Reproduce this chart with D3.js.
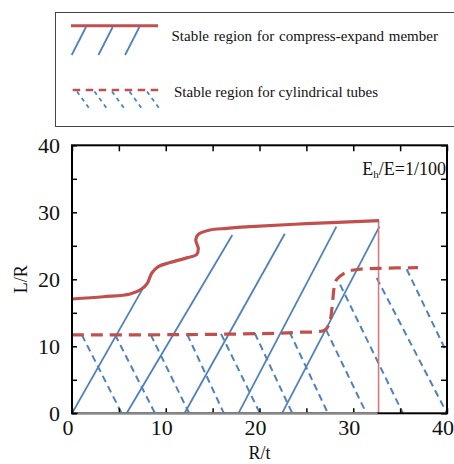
<!DOCTYPE html>
<html>
<head>
<meta charset="utf-8">
<script src="https://cdn.jsdelivr.net/npm/d3@7/dist/d3.min.js"></script>
<style>
  html, body { margin: 0; padding: 0; background: #fff; }
  svg { display: block; }
</style>
</head>
<body>
<svg id="chart" width="454" height="464"></svg>
<script>
// ---------- data ----------
const xTickValues = [0, 5, 10, 15, 20, 25, 30, 35, 40];
const xTickLabels = [0, 10, 20, 30, 40];
const yTickValues = [0, 5, 10, 15, 20, 25, 30, 35, 40];
const yTickLabels = [0, 10, 20, 30, 40];

// boundary of the stable region for compress-expand member (solid red)
const memberCurveX = [0, 3.35, 6.2, 7.43, 8.03, 8.5, 9.2, 10.45, 12.23, 13.3, 13.47, 13.2, 13.47, 14.7, 16.5, 19.0, 25.0, 32.75];
const memberCurveY = [17.06, 17.4, 17.8, 18.55, 19.4, 20.9, 21.9, 22.5, 23.2, 23.7, 24.6, 25.9, 26.7, 27.36, 27.6, 27.85, 28.3, 28.75];
const memberLimitX = 32.7;          // thin vertical boundary
const memberLimitTop = 28.75;

// hatch lines of member region (solid blue)
const memberHatchX0 = [0, 5.83, 12.0, 17.75, 22.4];
const memberHatchY0 = [0, 0, 0, 0, 0];
const memberHatchX1 = [7.5, 17.1, 22.7, 28.2, 32.8];
const memberHatchY1 = [18.5, 26.6, 26.8, 27.85, 27.9];

// boundary of the stable region for cylindrical tubes (dashed red)
const tubeCurveX = [0, 12.6, 21.8, 24.3, 27.0, 27.5, 27.77, 27.95, 28.2, 29.3, 30.7, 32.85, 36.9];
const tubeCurveY = [11.7, 11.75, 11.95, 12.1, 12.45, 13.7, 16.2, 18.66, 19.9, 21.1, 21.5, 21.64, 21.73];

// hatch lines of tube region (dashed blue)
const tubeHatchX0 = [1.05, 4.6, 8.4, 12.3, 15.9, 19.5, 23.2, 27.1, 28.6, 32.5, 35.7];
const tubeHatchY0 = [11.7, 11.72, 11.73, 11.75, 11.85, 11.95, 12.15, 12.45, 19.2, 20.2, 21.5];
const tubeHatchX1 = [5.3, 8.85, 12.5, 16.2, 20.05, 23.5, 27.3, 31.4, 35.3, 40.0, 40.0];
const tubeHatchY1 = [0, 0, 0, 0, 0, 0, 0, 0, 0, 0, 9.0];

const legendLabels = ["Stable region for compress-expand member", "Stable region for cylindrical tubes"];
const annotation = { main: "E", sub: "h", rest: "/E=1/100" };
const xTitle = "R/t", yTitle = "L/R";

// ---------- styles ----------
const RED = "#c0504d", BLUE = "#4f81bd";
const FONT = "'Liberation Serif', 'Times New Roman', Tinos, 'DejaVu Serif', serif";

const svg = d3.select("#chart").attr("font-family", FONT);
const x = d3.scaleLinear().domain([0, 40]).range([72, 447]);
const y = d3.scaleLinear().domain([0, 40]).range([413.3, 145.3]);

// clip
svg.append("clipPath").attr("id", "plotclip").append("rect")
  .attr("x", x(0)).attr("y", y(40)).attr("width", x(40) - x(0)).attr("height", y(0) - y(40));

const plot = svg.append("g").attr("clip-path", "url(#plotclip)");

// member hatch (solid blue)
plot.selectAll(".mh").data(d3.range(memberHatchX0.length)).join("line")
  .attr("x1", i => x(memberHatchX0[i])).attr("y1", i => y(memberHatchY0[i]))
  .attr("x2", i => x(memberHatchX1[i])).attr("y2", i => y(memberHatchY1[i]))
  .attr("stroke", BLUE).attr("stroke-width", 1.8);

// tube hatch (dashed blue)
plot.selectAll(".th").data(d3.range(tubeHatchX0.length)).join("line")
  .attr("x1", i => x(tubeHatchX0[i])).attr("y1", i => y(tubeHatchY0[i]))
  .attr("x2", i => x(tubeHatchX1[i])).attr("y2", i => y(tubeHatchY1[i]))
  .attr("stroke", BLUE).attr("stroke-width", 2).attr("stroke-dasharray", "7,4.5");

// vertical limit line
plot.append("line")
  .attr("x1", x(memberLimitX)).attr("x2", x(memberLimitX))
  .attr("y1", y(memberLimitTop)).attr("y2", y(0))
  .attr("stroke", "#d9797a").attr("stroke-width", 1.6);

const line = d3.line().x(d => x(d[0])).y(d => y(d[1])).curve(d3.curveCatmullRom.alpha(0.5));

// tube boundary (dashed red)
plot.append("path")
  .attr("d", line(tubeCurveX.map((v, i) => [v, tubeCurveY[i]])))
  .attr("fill", "none").attr("stroke", RED).attr("stroke-width", 3.2).attr("stroke-dasharray", "12,7");

// member boundary (solid red)
plot.append("path")
  .attr("d", line(memberCurveX.map((v, i) => [v, memberCurveY[i]])))
  .attr("fill", "none").attr("stroke", RED).attr("stroke-width", 3.2);

// ---------- axes ----------
const axB = svg.append("g").attr("transform", `translate(0,${y(0)})`)
  .call(d3.axisBottom(x).tickValues(xTickValues).tickSizeInner(-5).tickSizeOuter(0).tickFormat(""));
const axT = svg.append("g").attr("transform", `translate(0,${y(40)})`)
  .call(d3.axisTop(x).tickValues(xTickValues).tickSizeInner(-6).tickSizeOuter(0).tickFormat(""));
const axL = svg.append("g").attr("transform", `translate(${x(0)},0)`)
  .call(d3.axisLeft(y).tickValues(yTickValues).tickSizeInner(-5).tickSizeOuter(0).tickFormat(""));
const axR = svg.append("g").attr("transform", `translate(${x(40)},0)`)
  .call(d3.axisRight(y).tickValues(yTickValues).tickSizeInner(-6).tickSizeOuter(0).tickFormat(""));
[axB, axT, axL, axR].forEach(a => {
  a.select(".domain").remove();
  a.selectAll(".tick line").attr("stroke", "#000").attr("stroke-width", 1.5);
});

// frame
svg.append("rect")
  .attr("x", x(0)).attr("y", y(40)).attr("width", x(40) - x(0)).attr("height", y(0) - y(40))
  .attr("fill", "none").attr("stroke", "#000").attr("stroke-width", 2);
// grey base segment over bottom frame
svg.append("line")
  .attr("x1", x(0.6)).attr("x2", x(memberLimitX) - 1).attr("y1", y(0)).attr("y2", y(0))
  .attr("stroke", "#8c8c8c").attr("stroke-width", 2);

// tick labels
svg.selectAll(".xl").data(xTickLabels).join("text")
  .attr("x", d => x(d) - 4).attr("y", 435)
  .attr("text-anchor", "middle").attr("font-size", 22).attr("fill", "#111").text(d => d);
svg.selectAll(".yl").data(yTickLabels).join("text")
  .attr("x", 60).attr("y", d => y(d)).attr("dy", "0.35em")
  .attr("text-anchor", "end").attr("font-size", 22).attr("fill", "#111").text(d => d);

// axis titles
svg.append("text").attr("x", (x(0) + x(40)) / 2).attr("y", 459)
  .attr("text-anchor", "middle").attr("font-size", 18).attr("fill", "#111").text(xTitle);
svg.append("text").attr("transform", `translate(27,${(y(0) + y(40)) / 2}) rotate(-90)`)
  .attr("text-anchor", "middle").attr("font-size", 18).attr("fill", "#111").text(yTitle);

// annotation
const ann = svg.append("text").attr("x", 446).attr("y", 175).attr("text-anchor", "end")
  .attr("font-size", 18).attr("fill", "#111");
ann.append("tspan").text(annotation.main);
ann.append("tspan").attr("font-size", 11).attr("dy", 3).text(annotation.sub);
ann.append("tspan").attr("dy", -3).text(annotation.rest);

// ---------- legend ----------
const lg = svg.append("g");
lg.append("rect").attr("x", 55.5).attr("y", 12.5).attr("width", 420).attr("height", 114)
  .attr("fill", "#fff").attr("stroke", "#444").attr("stroke-width", 1);

// item 1
lg.append("line").attr("x1", 71).attr("x2", 158).attr("y1", 25.7).attr("y2", 25.7)
  .attr("stroke", RED).attr("stroke-width", 3);
[0, 1, 2].forEach(k => {
  lg.append("line")
    .attr("x1", 71.7 + k * 26.7).attr("y1", 55)
    .attr("x2", 86 + k * 26.7).attr("y2", 27)
    .attr("stroke", BLUE).attr("stroke-width", 1.8);
});
lg.append("text").attr("x", 171.5).attr("y", 40.7).attr("font-size", 15).attr("fill", "#111")
  .attr("word-spacing", 1).text(legendLabels[0]);

// item 2
lg.append("line").attr("x1", 72.7).attr("x2", 158.5).attr("y1", 90).attr("y2", 90)
  .attr("stroke", RED).attr("stroke-width", 2.5).attr("stroke-dasharray", "7.5,5.5");
[0, 1, 2, 3, 4].forEach(k => {
  lg.append("line")
    .attr("x1", 77 + k * 17.5).attr("y1", 91.5)
    .attr("x2", 89 + k * 17.5).attr("y2", 108)
    .attr("stroke", BLUE).attr("stroke-width", 1.8).attr("stroke-dasharray", "4,4");
});
lg.append("text").attr("x", 174).attr("y", 97.3).attr("font-size", 15).attr("fill", "#111")
  .text(legendLabels[1]);
</script>
</body>
</html>
